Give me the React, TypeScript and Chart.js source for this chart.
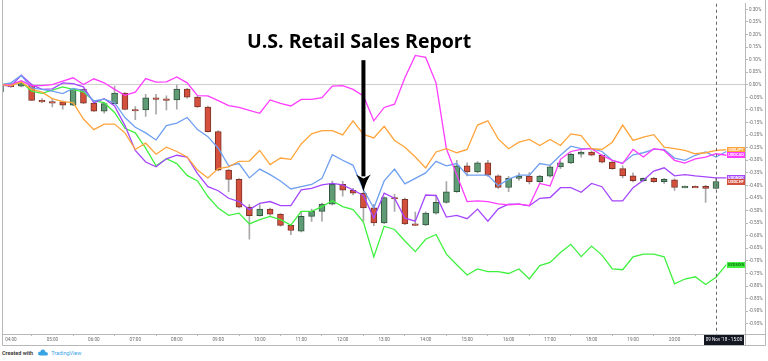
import React, { useEffect, useRef } from 'react';
import { Chart, registerables } from 'chart.js';

Chart.register(...registerables);

// ---------- DATA ----------
const TIME_LABELS = [
  '03:45', '04:00', '04:15', '04:30', '04:45', '05:00', '05:15', '05:30', '05:45', '06:00',
  '06:15', '06:30', '06:45', '07:00', '07:15', '07:30', '07:45', '08:00', '08:15', '08:30',
  '08:45', '09:00', '09:15', '09:30', '09:45', '10:00', '10:15', '10:30', '10:45', '11:00',
  '11:15', '11:30', '11:45', '12:00', '12:15', '12:30', '12:45', '13:00', '13:15', '13:30',
  '13:45', '14:00', '14:15', '14:30', '14:45', '15:00', '15:15', '15:30', '15:45', '16:00',
  '16:15', '16:30', '16:45', '17:00', '17:15', '17:30', '17:45', '18:00', '18:15', '18:30',
  '18:45', '19:00', '19:15', '19:30', '19:45', '20:00', '20:15', '20:30', '20:45', '21:00',
  '21:15',
];

// USDCHF candles (% change)
const OPEN = [
  -0.028, 0.000, -0.005, 0.000, -0.062, -0.067, -0.068, -0.081, -0.018, -0.073,
  -0.105, -0.075, -0.033, -0.098, -0.100, -0.052, -0.056, -0.060, -0.017, -0.049,
  -0.088, -0.186, -0.339, -0.376, -0.486, -0.520, -0.494, -0.514, -0.559, -0.582,
  -0.523, -0.503, -0.474, -0.396, -0.419, -0.431, -0.489, -0.549, -0.448, -0.455,
  -0.553, -0.557, -0.510, -0.467, -0.425, -0.322, -0.346, -0.310, -0.362, -0.408,
  -0.372, -0.363, -0.385, -0.363, -0.326, -0.310, -0.276, -0.267, -0.280, -0.307,
  -0.333, -0.362, -0.381, -0.372, -0.385, -0.378, -0.408, -0.404, -0.404, -0.412,
];
const HIGH = [
  0.004, 0.004, 0.013, 0.003, -0.055, -0.058, -0.064, -0.016, -0.016, -0.070,
  -0.072, -0.005, -0.031, -0.086, -0.038, -0.038, -0.044, -0.001, -0.014, -0.046,
  -0.084, -0.182, -0.336, -0.373, -0.476, -0.476, -0.490, -0.512, -0.557, -0.503,
  -0.494, -0.470, -0.383, -0.384, -0.411, -0.425, -0.475, -0.445, -0.435, -0.450,
  -0.506, -0.505, -0.438, -0.385, -0.300, -0.310, -0.305, -0.300, -0.358, -0.364,
  -0.350, -0.349, -0.360, -0.322, -0.304, -0.272, -0.262, -0.262, -0.276, -0.304,
  -0.322, -0.350, -0.370, -0.368, -0.372, -0.374, -0.402, -0.402, -0.400, -0.372,
];
const LOW = [
  -0.030, -0.010, -0.008, -0.063, -0.071, -0.088, -0.097, -0.083, -0.075, -0.106,
  -0.113, -0.077, -0.100, -0.139, -0.126, -0.117, -0.100, -0.097, -0.053, -0.090,
  -0.188, -0.341, -0.425, -0.489, -0.614, -0.522, -0.518, -0.562, -0.596, -0.585,
  -0.543, -0.542, -0.477, -0.443, -0.438, -0.540, -0.560, -0.552, -0.503, -0.556,
  -0.559, -0.560, -0.514, -0.470, -0.428, -0.362, -0.350, -0.364, -0.412, -0.425,
  -0.380, -0.394, -0.390, -0.367, -0.333, -0.313, -0.288, -0.283, -0.310, -0.336,
  -0.370, -0.386, -0.384, -0.388, -0.392, -0.420, -0.410, -0.408, -0.467, -0.414,
];
const CLOSE = [
  0.000, -0.007, 0.005, -0.062, -0.067, -0.068, -0.081, -0.018, -0.073, -0.105,
  -0.075, -0.033, -0.098, -0.100, -0.052, -0.056, -0.060, -0.017, -0.049, -0.088,
  -0.186, -0.339, -0.376, -0.486, -0.520, -0.494, -0.514, -0.559, -0.579, -0.523,
  -0.503, -0.474, -0.396, -0.419, -0.431, -0.489, -0.549, -0.448, -0.453, -0.553,
  -0.557, -0.510, -0.467, -0.425, -0.322, -0.346, -0.310, -0.359, -0.408, -0.372,
  -0.363, -0.385, -0.363, -0.326, -0.310, -0.276, -0.267, -0.280, -0.307, -0.333,
  -0.362, -0.381, -0.372, -0.385, -0.376, -0.408, -0.404, -0.406, -0.412, -0.385,
];

const USDJPY = [
  0.001, -0.003, 0.011, -0.018, -0.029, -0.055, -0.067, -0.071, -0.136, -0.178,
  -0.156, -0.156, -0.191, -0.257, -0.232, -0.276, -0.248, -0.265, -0.287, -0.339,
  -0.370, -0.333, -0.326, -0.304, -0.303, -0.261, -0.317, -0.291, -0.296, -0.235,
  -0.195, -0.182, -0.182, -0.199, -0.143, -0.197, -0.211, -0.165, -0.221, -0.248,
  -0.287, -0.330, -0.267, -0.254, -0.270, -0.257, -0.160, -0.143, -0.215, -0.254,
  -0.228, -0.217, -0.241, -0.217, -0.241, -0.195, -0.202, -0.254, -0.257, -0.228,
  -0.160, -0.221, -0.208, -0.198, -0.248, -0.254, -0.261, -0.274, -0.270, -0.261,
  -0.258,
];
const USDCAD = [
  0.001, 0.001, 0.016, -0.003, -0.003, 0.001, 0.015, 0.028, 0.001, 0.024,
  0.008, -0.018, -0.042, -0.029, 0.025, 0.011, 0.012, 0.031, 0.008, -0.043,
  -0.044, -0.063, -0.083, -0.090, -0.102, -0.113, -0.060, -0.074, -0.084, -0.058,
  -0.058, -0.051, -0.005, -0.003, -0.018, -0.044, -0.143, -0.090, -0.077, 0.028,
  0.117, 0.109, 0.008, -0.254, -0.358, -0.464, -0.461, -0.464, -0.473, -0.477,
  -0.474, -0.480, -0.392, -0.402, -0.296, -0.265, -0.257, -0.254, -0.280, -0.300,
  -0.313, -0.257, -0.287, -0.254, -0.261, -0.300, -0.311, -0.294, -0.287, -0.274,
  -0.280,
];
const USDSEK = [
  -0.001, 0.008, 0.038, -0.012, -0.018, -0.025, -0.035, -0.014, -0.022, -0.064,
  -0.057, -0.071, -0.130, -0.169, -0.191, -0.219, -0.162, -0.152, -0.130, -0.178,
  -0.206, -0.252, -0.322, -0.313, -0.370, -0.335, -0.357, -0.382, -0.414, -0.405,
  -0.396, -0.372, -0.278, -0.300, -0.320, -0.417, -0.490, -0.382, -0.335, -0.394,
  -0.372, -0.350, -0.304, -0.322, -0.313, -0.359, -0.359, -0.359, -0.401, -0.375,
  -0.359, -0.359, -0.313, -0.320, -0.280, -0.244, -0.254, -0.254, -0.265, -0.300,
  -0.311, -0.278, -0.270, -0.257, -0.257, -0.291, -0.300, -0.280, -0.267, -0.287,
  -0.265,
];
const USDNOK = [
  -0.001, -0.005, 0.038, 0.001, -0.018, -0.016, 0.008, 0.005, -0.008, -0.071,
  -0.055, -0.084, -0.162, -0.261, -0.307, -0.326, -0.294, -0.280, -0.287, -0.353,
  -0.405, -0.421, -0.451, -0.464, -0.496, -0.471, -0.464, -0.480, -0.480, -0.418,
  -0.412, -0.398, -0.392, -0.398, -0.418, -0.440, -0.530, -0.431, -0.451, -0.530,
  -0.542, -0.438, -0.440, -0.526, -0.519, -0.532, -0.494, -0.542, -0.493, -0.474,
  -0.474, -0.481, -0.451, -0.448, -0.409, -0.409, -0.427, -0.392, -0.405, -0.461,
  -0.461, -0.409, -0.379, -0.343, -0.330, -0.362, -0.357, -0.362, -0.366, -0.370,
  -0.370,
];
const USDMXN = [
  0.001, 0.005, 0.011, -0.025, -0.034, -0.021, -0.008, -0.018, -0.029, -0.064,
  -0.071, -0.110, -0.173, -0.191, -0.252, -0.322, -0.294, -0.313, -0.360, -0.382,
  -0.444, -0.490, -0.519, -0.510, -0.553, -0.536, -0.523, -0.536, -0.558, -0.503,
  -0.503, -0.484, -0.461, -0.484, -0.496, -0.546, -0.684, -0.562, -0.575, -0.621,
  -0.663, -0.614, -0.595, -0.673, -0.715, -0.756, -0.732, -0.743, -0.743, -0.750,
  -0.732, -0.772, -0.719, -0.706, -0.667, -0.634, -0.683, -0.641, -0.677, -0.732,
  -0.735, -0.684, -0.673, -0.673, -0.684, -0.791, -0.772, -0.763, -0.794, -0.765,
  -0.715,
];

const Y_TICKS = [
  0.30, 0.25, 0.20, 0.15, 0.10, 0.05, 0.00, -0.05, -0.10, -0.15, -0.20, -0.25, -0.30,
  -0.35, -0.40, -0.45, -0.50, -0.55, -0.60, -0.65, -0.70, -0.75, -0.80, -0.85, -0.90, -0.95,
];
const X_TICK_LABELS = [
  '04:00', '05:00', '06:00', '07:00', '08:00', '09:00', '10:00', '11:00', '12:00',
  '13:00', '14:00', '15:00', '16:00', '17:00', '18:00', '19:00', '20:00',
];
const TITLE = 'U.S. Retail Sales Report';
const CURSOR_TIME = '21:00';
const CURSOR_LABEL = "09 Nov '18 - 15:00";
const ARROW_TIME = '12:30';

// ---------- helpers ----------
const toHours = (s: string) => {
  const [h, m] = s.split(':').map(Number);
  return h + m / 60;
};
const T = TIME_LABELS.map(toHours);

const RED = '#d4503c';
const RED_BORDER = '#7a3328';
const GREEN = '#5f9b74';
const GREEN_BORDER = '#34553f';

const C_ORANGE = '#ffa43a';
const C_MAGENTA = '#ff3cff';
const C_BLUE = '#6e9ff0';
const C_PURPLE = '#a546ff';
const C_GREEN = '#3ff03f';

const SERIES_LABELS = [
  { text: 'USDJPY', data: USDJPY, bg: C_ORANGE, fg: '#ffffff' },
  { text: 'USDCAD', data: USDCAD, bg: C_MAGENTA, fg: '#ffffff' },
  { text: 'USDNOK', data: USDNOK, bg: C_PURPLE, fg: '#ffffff' },
  { text: 'USDCHF', data: CLOSE, bg: RED, fg: '#ffffff' },
  { text: 'USDMXN', data: USDMXN, bg: C_GREEN, fg: '#127a12' },
];

const overlayPlugin = {
  id: 'overlay',
  afterDatasetsDraw(chart: any) {
    const { ctx, chartArea: a, scales } = chart;
    const xs = scales.x;
    const ys = scales.y;
    ctx.save();
    // cursor dashed line
    const cx = Math.round(xs.getPixelForValue(toHours(CURSOR_TIME))) + 0.5;
    ctx.strokeStyle = '#666';
    ctx.lineWidth = 1;
    ctx.setLineDash([3, 3]);
    ctx.beginPath();
    ctx.moveTo(cx, a.top);
    ctx.lineTo(cx, a.bottom);
    ctx.stroke();
    ctx.setLineDash([]);

    // annotation arrow
    const ax = xs.getPixelForValue(toHours(ARROW_TIME));
    const top = ys.getPixelForValue(0.098);
    const headStart = ys.getPixelForValue(-0.36);
    const tip = ys.getPixelForValue(-0.425);
    ctx.fillStyle = '#000';
    ctx.fillRect(ax - 2, top, 4, headStart - top + 1);
    ctx.beginPath();
    ctx.moveTo(ax - 7.5, headStart - 1);
    ctx.quadraticCurveTo(ax - 3, headStart + 4, ax, tip);
    ctx.quadraticCurveTo(ax + 3, headStart + 4, ax + 7.5, headStart - 1);
    ctx.lineTo(ax, headStart + 3);
    ctx.closePath();
    ctx.fill();

    // right-side series labels
    ctx.font = 'bold 4px Roboto';
    ctx.textAlign = 'center';
    ctx.textBaseline = 'middle';
    for (const s of SERIES_LABELS) {
      const v = s.data[s.data.length - 1];
      const y = ys.getPixelForValue(v);
      const x0 = a.right - 18;
      ctx.fillStyle = s.bg;
      ctx.fillRect(x0, Math.round(y - 3), 18, 6);
      ctx.fillStyle = s.fg;
      ctx.fillText(s.text, x0 + 9, Math.round(y - 3) + 3.2);
    }
    ctx.restore();
  },
  afterDraw(chart: any) {
    const { ctx, chartArea: a, scales } = chart;
    const xs = scales.x;
    ctx.save();
    ctx.strokeStyle = '#b8b8b8';
    ctx.lineWidth = 1;
    ctx.beginPath();
    ctx.moveTo(2.5, 0);
    ctx.lineTo(2.5, 345.5);
    ctx.lineTo(765.5, 345.5);
    ctx.lineTo(765.5, 0);
    ctx.moveTo(a.right, a.bottom + 0.5);
    ctx.lineTo(765.5, a.bottom + 0.5);
    ctx.moveTo(a.right + 0.5, a.bottom);
    ctx.lineTo(a.right + 0.5, 345.5);
    ctx.stroke();
    // cursor time label
    const cx = xs.getPixelForValue(toHours(CURSOR_TIME));
    const bx = cx - 12;
    ctx.fillStyle = '#131722';
    ctx.fillRect(bx, a.bottom + 1, 40, 10);
    ctx.fillStyle = '#ffffff';
    ctx.font = '4.6px Roboto';
    ctx.textAlign = 'center';
    ctx.textBaseline = 'middle';
    ctx.fillText(CURSOR_LABEL, bx + 20, a.bottom + 6.2);
    ctx.restore();
  },
};

const lineDs = (label: string, data: number[], color: string) => ({
  type: 'line' as const,
  label,
  data: data.map((v, i) => ({ x: T[i], y: v })),
  borderColor: color,
  borderWidth: 1.3,
  pointRadius: 0,
  tension: 0,
  fill: false,
  order: 0,
});

export default function App() {
  const ref = useRef<HTMLCanvasElement>(null);

  useEffect(() => {
    if (!ref.current) return;
    const candleColor = (ctx: any) =>
      CLOSE[ctx.dataIndex] >= OPEN[ctx.dataIndex] ? GREEN : RED;
    const candleBorder = (ctx: any) =>
      CLOSE[ctx.dataIndex] >= OPEN[ctx.dataIndex] ? GREEN_BORDER : RED_BORDER;

    const chart = new Chart(ref.current, {
      type: 'bar',
      data: {
        datasets: [
          lineDs('USDJPY', USDJPY, C_ORANGE),
          lineDs('USDCAD', USDCAD, C_MAGENTA),
          lineDs('USDSEK', USDSEK, C_BLUE),
          lineDs('USDNOK', USDNOK, C_PURPLE),
          lineDs('USDMXN', USDMXN, C_GREEN),
          {
            type: 'bar',
            label: 'USDCHF body',
            data: OPEN.map((o, i) => ({ x: T[i], y: [o, CLOSE[i]] })),
            backgroundColor: candleColor,
            borderColor: candleBorder,
            borderWidth: 1,
            borderSkipped: false,
            barThickness: 6,
            minBarLength: 1.5,
            grouped: false,
            order: 1,
          } as any,
          {
            type: 'bar',
            label: 'USDCHF wick',
            data: LOW.map((l, i) => ({ x: T[i], y: [l, HIGH[i]] })),
            backgroundColor: '#a8a8a8',
            borderWidth: 0,
            barThickness: 1,
            grouped: false,
            order: 2,
          } as any,
        ],
      },
      options: {
        responsive: false,
        animation: false,
        devicePixelRatio: 1,
        layout: { padding: { left: 3, top: 0, right: 0, bottom: 0 } },
        plugins: {
          legend: { display: false },
          tooltip: { enabled: false },
        },
        scales: {
          x: {
            type: 'linear',
            offset: false,
            min: 3.8103,
            max: 21.699,
            afterBuildTicks: (s: any) => {
              s.ticks = X_TICK_LABELS.map((l) => ({ value: toHours(l) }));
            },
            afterFit: (s: any) => {
              s.height = 13;
            },
            ticks: {
              autoSkip: false,
              maxRotation: 0,
              padding: 1,
              color: '#6a6a6a',
              font: { family: 'Roboto', size: 4.6 },
              callback: (v: any) => {
                const h = Math.round(Number(v));
                return (h < 10 ? '0' : '') + h + ':00';
              },
            },
            grid: {
              drawOnChartArea: false,
              drawTicks: true,
              tickLength: 2,
              color: '#b8b8b8',
            },
            border: { display: true, color: '#b8b8b8' },
          },
          y: {
            type: 'linear',
            position: 'right',
            min: -0.9906,
            max: 0.3223,
            afterBuildTicks: (s: any) => {
              s.ticks = Y_TICKS.map((v) => ({ value: v }));
            },
            afterFit: (s: any) => {
              s.width = 23;
            },
            ticks: {
              autoSkip: false,
              padding: 1,
              color: '#6a6a6a',
              font: { family: 'Roboto', size: 4.6 },
              callback: (v: any) => Number(v).toFixed(2) + '%',
            },
            grid: {
              drawOnChartArea: true,
              drawTicks: true,
              tickLength: 3,
              color: (ctx: any) =>
                ctx.tick && Math.abs(ctx.tick.value) < 1e-9 ? '#cfcfcf' : 'rgba(0,0,0,0)',
              tickColor: '#b8b8b8',
            },
            border: { display: true, color: '#b8b8b8' },
          },
        },
      } as any,
      plugins: [overlayPlugin],
    });
    return () => chart.destroy();
  }, []);

  return (
    <div
      style={{
        position: 'absolute',
        left: 0,
        top: 0,
        width: 768,
        height: 361,
        background: '#ffffff',
        overflow: 'hidden',
      }}
    >
      <canvas
        ref={ref}
        width={768}
        height={347}
        style={{ position: 'absolute', left: 0, top: 0, width: 768, height: 347 }}
      />
      <div
        style={{
          position: 'absolute',
          left: 247,
          top: 30.5,
          fontFamily: '"Open Sans", sans-serif',
          fontWeight: 700,
          fontSize: 19.5,
          lineHeight: 1,
          color: '#000',
          whiteSpace: 'nowrap',
        }}
      >
        {TITLE}
      </div>
      <div
        style={{
          position: 'absolute',
          left: 2,
          top: 348,
          height: 9,
          display: 'flex',
          alignItems: 'center',
          fontFamily: 'Roboto, sans-serif',
          fontSize: 5.5,
          whiteSpace: 'nowrap',
        }}
      >
        <span style={{ color: '#333', fontWeight: 600 }}>Created with</span>
        <svg width="10" height="7" viewBox="0 0 20 14" style={{ marginLeft: 5, marginRight: 3 }}>
          <path d="M4 13 Q0 13 0 9 Q0 5 5 5 Q6 0 11 1 Q15 2 15 6 Q20 6 20 10 Q20 13 16 13 Z" fill="#3aa3e3" />
        </svg>
        <span style={{ color: '#3aa3e3' }}>TradingView</span>
      </div>
    </div>
  );
}
